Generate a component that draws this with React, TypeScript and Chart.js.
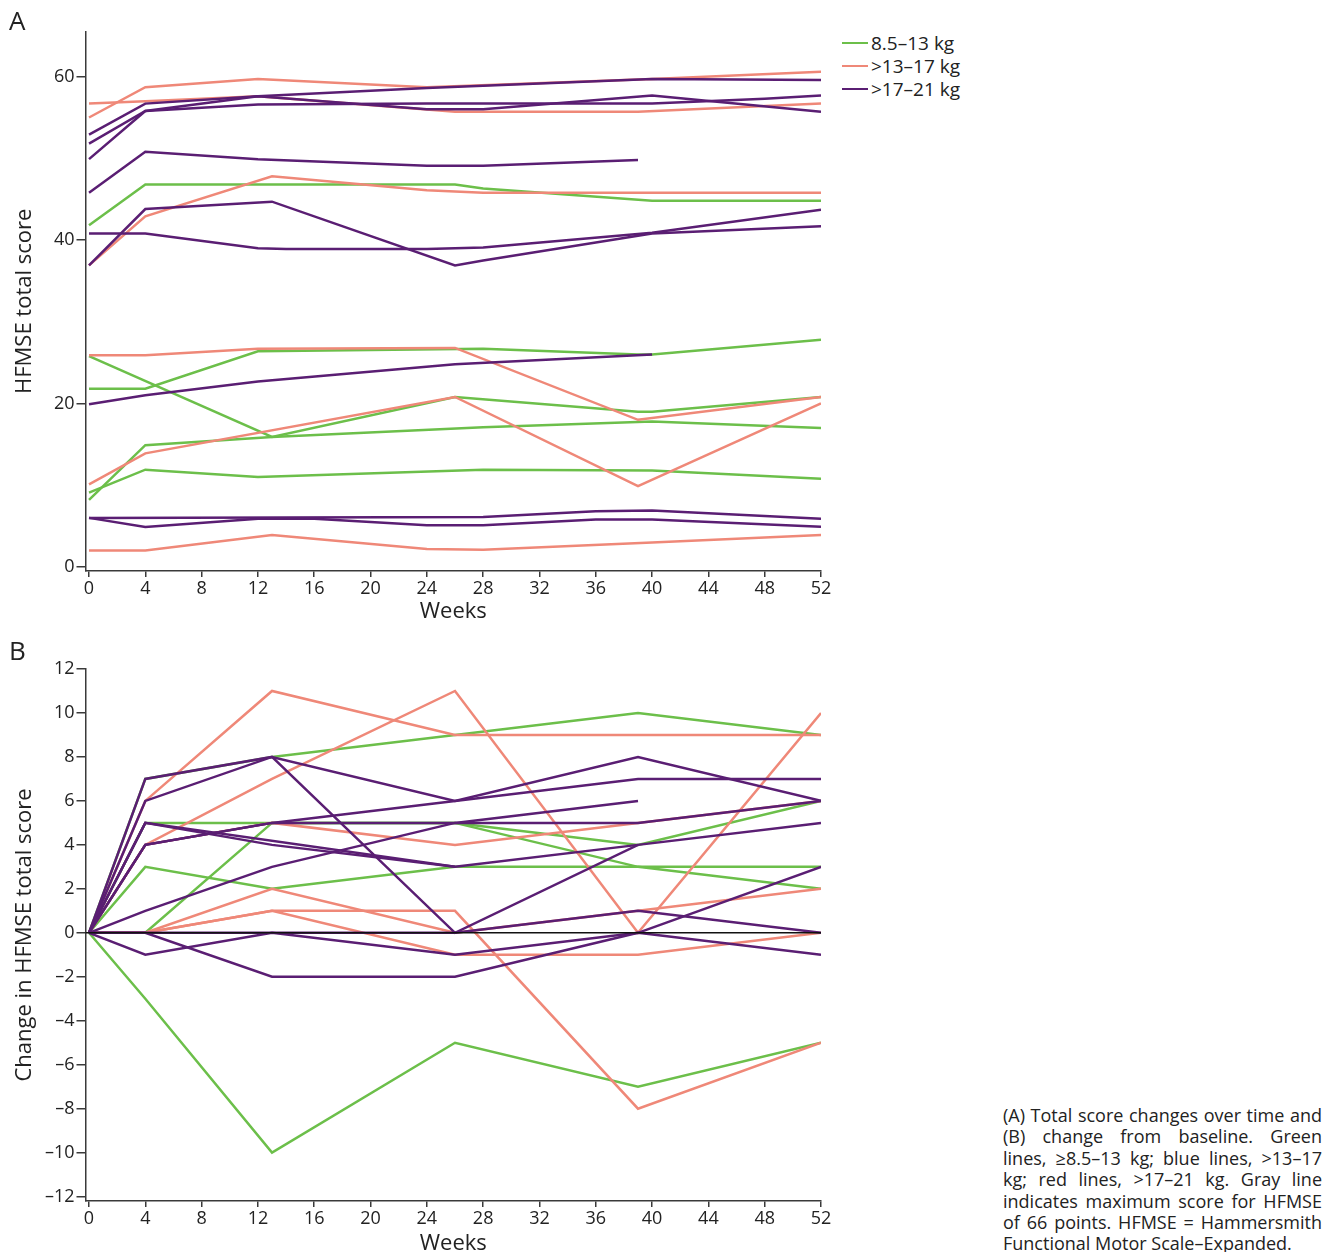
import React, { useEffect, useRef } from "react";
import { Chart, registerables } from "chart.js";

Chart.register(...registerables);

const GREEN = "#6cbf4a";
const PINK = "#ef8878";
const PURPLE = "#5a1e73";
const AXIS = "#3a3a3a";
const TEXT = "#222222";
const FAMILY = "'Open Sans', 'Noto Sans', sans-serif";

// ---------- Panel A: HFMSE total score, [week, score] ----------
const aGreen1 = [[0, 41.8], [4, 46.8], [26, 46.8], [28, 46.3], [40, 44.8], [52, 44.8]];
const aGreen2 = [[0, 25.8], [13, 15.9], [26, 20.8], [39, 19.0], [40, 19.0], [52, 20.8]];
const aGreen3 = [[0, 21.8], [4, 21.8], [12, 26.4], [28, 26.7], [39, 26.0], [40, 26.0], [52, 27.8]];
const aGreen4 = [[0, 8.2], [4, 14.9], [13, 15.9], [28, 17.1], [40, 17.8], [52, 17.0]];
const aGreen5 = [[0, 9.1], [4, 11.9], [12, 11.0], [28, 11.9], [40, 11.8], [52, 10.8]];

const aPink1 = [[0, 55.0], [4, 58.7], [12, 59.7], [24, 58.7], [40, 59.7], [52, 60.6]];
const aPink2 = [[0, 56.7], [4, 57.0], [12, 57.6], [26, 55.7], [39, 55.7], [52, 56.7]];
const aPink3 = [[0, 36.9], [4, 42.9], [13, 47.8], [24, 46.1], [28, 45.8], [52, 45.8]];
const aPink4 = [[0, 25.9], [4, 25.9], [12, 26.7], [26, 26.8], [39, 18.0], [52, 20.8]];
const aPink5 = [[0, 10.1], [4, 13.9], [26, 20.8], [39, 9.9], [52, 20.0]];
const aPink6 = [[0, 2.0], [4, 2.0], [13, 3.9], [24, 2.2], [28, 2.1], [40, 3.0], [52, 3.9]];

const aPurple1 = [[0, 52.9], [4, 56.7], [12, 57.6], [24, 58.6], [28, 58.9], [40, 59.7], [52, 59.6]];
const aPurple2 = [[0, 49.9], [4, 55.8], [12, 57.6], [24, 56.0], [28, 56.0], [40, 57.7], [52, 55.7]];
const aPurple3 = [[0, 51.8], [4, 55.8], [12, 56.6], [24, 56.7], [40, 56.7], [48, 57.3], [52, 57.7]];
const aPurple4 = [[0, 45.8], [4, 50.8], [12, 49.9], [24, 49.1], [28, 49.1], [39, 49.8]];
const aPurple5 = [[0, 36.9], [4, 43.8], [13, 44.7], [26, 36.9], [28, 37.5], [40, 40.8], [52, 41.7]];
const aPurple6 = [[0, 40.8], [4, 40.8], [12, 39.0], [14, 38.9], [24, 38.9], [28, 39.1], [40, 40.9], [52, 43.7]];
const aPurple7 = [[0, 19.9], [4, 21.0], [12, 22.7], [26, 24.8], [40, 26.0]];
const aPurple8 = [[0, 6.0], [28, 6.1], [36, 6.8], [40, 6.9], [52, 5.9]];
const aPurple9 = [[0, 6.0], [4, 4.9], [12, 5.9], [16, 5.9], [24, 5.1], [28, 5.1], [36, 5.8], [40, 5.8], [52, 4.9]];

// ---------- Panel B: change from baseline, [week, change] ----------
const bGreen1 = [[0, 0], [4, 5], [13, 5], [26, 5], [39, 3], [52, 3]];
const bGreen2 = [[0, 0], [4, -3], [13, -10], [26, -5], [39, -7], [52, -5]];
const bGreen3 = [[0, 0], [4, 0], [13, 5], [26, 5], [39, 4], [52, 6]];
const bGreen4 = [[0, 0], [4, 7], [13, 8], [26, 9], [39, 10], [52, 9]];
const bGreen5 = [[0, 0], [4, 3], [13, 2], [26, 3], [39, 3], [52, 2]];

const bPink1 = [[0, 0], [4, 4], [13, 5], [26, 4], [39, 5], [52, 6]];
const bPink2 = [[0, 0], [4, 0], [13, 1], [26, -1], [39, -1], [52, 0]];
const bPink3 = [[0, 0], [4, 6], [13, 11], [26, 9], [39, 9], [52, 9]];
const bPink4 = [[0, 0], [4, 0], [13, 1], [26, 1], [39, -8], [52, -5]];
const bPink5 = [[0, 0], [4, 4], [13, 7], [26, 11], [39, 0], [52, 10]];
const bPink6 = [[0, 0], [4, 0], [13, 2], [26, 0], [39, 1], [52, 2]];

const bPurple1 = [[0, 0], [4, 4], [13, 5], [26, 6], [39, 7], [52, 7]];
const bPurple2 = [[0, 0], [4, 6], [13, 8], [26, 6], [39, 8], [52, 6]];
const bPurple3 = [[0, 0], [4, 4], [13, 5], [26, 5], [39, 5], [52, 6]];
const bPurple4 = [[0, 0], [4, 5], [13, 4], [26, 3], [39, 4]];
const bPurple5 = [[0, 0], [4, 7], [13, 8], [26, 0], [39, 4], [52, 5]];
const bPurple6 = [[0, 0], [4, 0], [13, -2], [26, -2], [39, 0], [52, 3]];
const bPurple7 = [[0, 0], [4, 1], [13, 3], [26, 5], [39, 6]];
const bPurple8 = [[0, 0], [4, 0], [13, 0], [26, 0], [39, 1], [52, 0]];
const bPurple9 = [[0, 0], [4, -1], [13, 0], [26, -1], [39, 0], [52, -1]];
const bPurple10 = [[0, 0], [4, 5], [26, 3]];

const aGreens = [aGreen1, aGreen2, aGreen3, aGreen4, aGreen5];
const aPinks = [aPink1, aPink2, aPink3, aPink4, aPink5, aPink6];
const aPurples = [aPurple1, aPurple2, aPurple3, aPurple4, aPurple5, aPurple6, aPurple7, aPurple8, aPurple9];
const bGreens = [bGreen1, bGreen2, bGreen3, bGreen4, bGreen5];
const bPinks = [bPink1, bPink2, bPink3, bPink4, bPink5, bPink6];
const bPurples = [bPurple1, bPurple2, bPurple3, bPurple4, bPurple5, bPurple6, bPurple7, bPurple8, bPurple9, bPurple10];

const legendLabels = ["8.5\u201313 kg", ">13\u201317 kg", ">17\u201321 kg"];
const legendColors = [GREEN, PINK, PURPLE];

const captionLines = [
  "(A) Total score changes over time and",
  "(B) change from baseline. Green",
  "lines, \u22658.5\u201313 kg; blue lines, >13\u201317",
  "kg; red lines, >17\u201321 kg. Gray line",
  "indicates maximum score for HFMSE",
  "of 66 points. HFMSE = Hammersmith",
  "Functional Motor Scale\u2013Expanded.",
];

function toDatasets(purples: number[][][], pinks: number[][][], greens: number[][][]) {
  const mk = (pts: number[][], color: string) => ({
    data: pts.map(([x, y]) => ({ x, y })),
    borderColor: color,
    backgroundColor: color,
    borderWidth: 2.5,
    pointRadius: 0,
    fill: false,
    tension: 0,
  });
  // first datasets are drawn on top in Chart.js
  return [
    ...purples.map((p) => mk(p, PURPLE)),
    ...pinks.map((p) => mk(p, PINK)),
    ...greens.map((p) => mk(p, GREEN)),
  ];
}

const fmtTick = (v: any) => (Number(v) < 0 ? "\u2013" + Math.abs(Number(v)) : String(v));

function makeOptions(cfg: {
  yMin: number; yMax: number; yStep: number; yTitle: string; padTop: number; xAxisHeight: number;
}) {
  return {
    responsive: false,
    animation: false,
    events: [],
    layout: { padding: { top: cfg.padTop, right: 19, left: 0, bottom: 0 } },
    plugins: { legend: { display: false }, tooltip: { enabled: false } },
    scales: {
      x: {
        type: "linear",
        min: -0.25,
        max: 52,
        grid: { drawOnChartArea: false, drawTicks: true, tickLength: 6, color: AXIS, lineWidth: 1.5 },
        border: { display: true, color: AXIS, width: 1.5 },
        ticks: {
          stepSize: 4, includeBounds: false, autoSkip: false, maxRotation: 0, padding: 1,
          color: TEXT, font: { family: FAMILY, size: 18 }, callback: fmtTick,
        },
        title: { display: true, text: "Weeks", color: TEXT, font: { family: FAMILY, size: 22 }, padding: 0 },
        afterFit: (s: any) => { s.height = cfg.xAxisHeight; },
      },
      y: {
        type: "linear",
        min: cfg.yMin,
        max: cfg.yMax,
        grid: { drawOnChartArea: false, drawTicks: true, tickLength: 9, color: AXIS, lineWidth: 1.5 },
        border: { display: true, color: AXIS, width: 1.5 },
        ticks: {
          stepSize: cfg.yStep, includeBounds: false, autoSkip: false, padding: 2,
          color: TEXT, font: { family: FAMILY, size: 18 }, callback: fmtTick,
        },
        title: {
          display: true, text: cfg.yTitle, color: TEXT, font: { family: FAMILY, size: 22 },
          padding: { top: 12, bottom: 0 },
        },
        afterFit: (s: any) => { s.width = 85.5; },
      },
    },
  };
}

const zeroLine = {
  id: "zeroLine",
  afterDatasetsDraw(chart: any) {
    const { ctx, chartArea, scales } = chart;
    const y = scales.y.getPixelForValue(0);
    ctx.save();
    ctx.strokeStyle = "#111";
    ctx.lineWidth = 1.4;
    ctx.beginPath();
    ctx.moveTo(chartArea.left, y);
    ctx.lineTo(chartArea.right, y);
    ctx.stroke();
    ctx.restore();
  },
};

export default function App() {
  const refA = useRef<HTMLCanvasElement>(null);
  const refB = useRef<HTMLCanvasElement>(null);

  useEffect(() => {
    const chartA = new Chart(refA.current as HTMLCanvasElement, {
      type: "line",
      data: { datasets: toDatasets(aPurples, aPinks, aGreens) as any },
      options: makeOptions({ yMin: -0.5, yMax: 65.5, yStep: 20, yTitle: "HFMSE total score", padTop: 31.7, xAxisHeight: 54 }) as any,
    });
    const chartB = new Chart(refB.current as HTMLCanvasElement, {
      type: "line",
      data: { datasets: toDatasets(bPurples, bPinks, bGreens) as any },
      options: makeOptions({ yMin: -12.2, yMax: 12, yStep: 2, yTitle: "Change in HFMSE total score", padTop: 29, xAxisHeight: 56 }) as any,
      plugins: [zeroLine],
    });
    return () => {
      chartA.destroy();
      chartB.destroy();
    };
  }, []);

  const textStyle: React.CSSProperties = { fontFamily: FAMILY, color: TEXT };

  return (
    <div style={{ position: "absolute", left: 0, top: 0, width: 1334, height: 1252, overflow: "hidden", background: "#fff" }}>
      <canvas ref={refA} width={840} height={625} style={{ position: "absolute", left: 0, top: 0 }} />
      <canvas ref={refB} width={840} height={617} style={{ position: "absolute", left: 0, top: 640 }} />
      <div style={{ ...textStyle, position: "absolute", left: 9, top: 7, fontSize: 26, lineHeight: "26px" }}>A</div>
      <div style={{ ...textStyle, position: "absolute", left: 9, top: 637, fontSize: 26, lineHeight: "26px" }}>B</div>
      {legendLabels.map((lab, i) => (
        <div key={lab} style={{ position: "absolute", left: 842, top: 44 + i * 23 - 12.7, height: 24, display: "flex", alignItems: "center" }}>
          <div style={{ width: 26, height: 2.2, background: legendColors[i] }} />
          <span style={{ ...textStyle, fontSize: 19, lineHeight: "24px", marginLeft: 3, whiteSpace: "nowrap" }}>{lab}</span>
        </div>
      ))}
      {captionLines.map((line, i) => (
        <div
          key={i}
          style={{
            ...textStyle,
            position: "absolute",
            left: 1003,
            top: 1105 + i * 21.4,
            width: 319,
            fontSize: 18,
            lineHeight: "21.4px",
            textAlign: i === captionLines.length - 1 ? "left" : "justify",
            textAlignLast: i === captionLines.length - 1 ? "left" : "justify",
          } as React.CSSProperties}
        >
          {line}
        </div>
      ))}
    </div>
  );
}
